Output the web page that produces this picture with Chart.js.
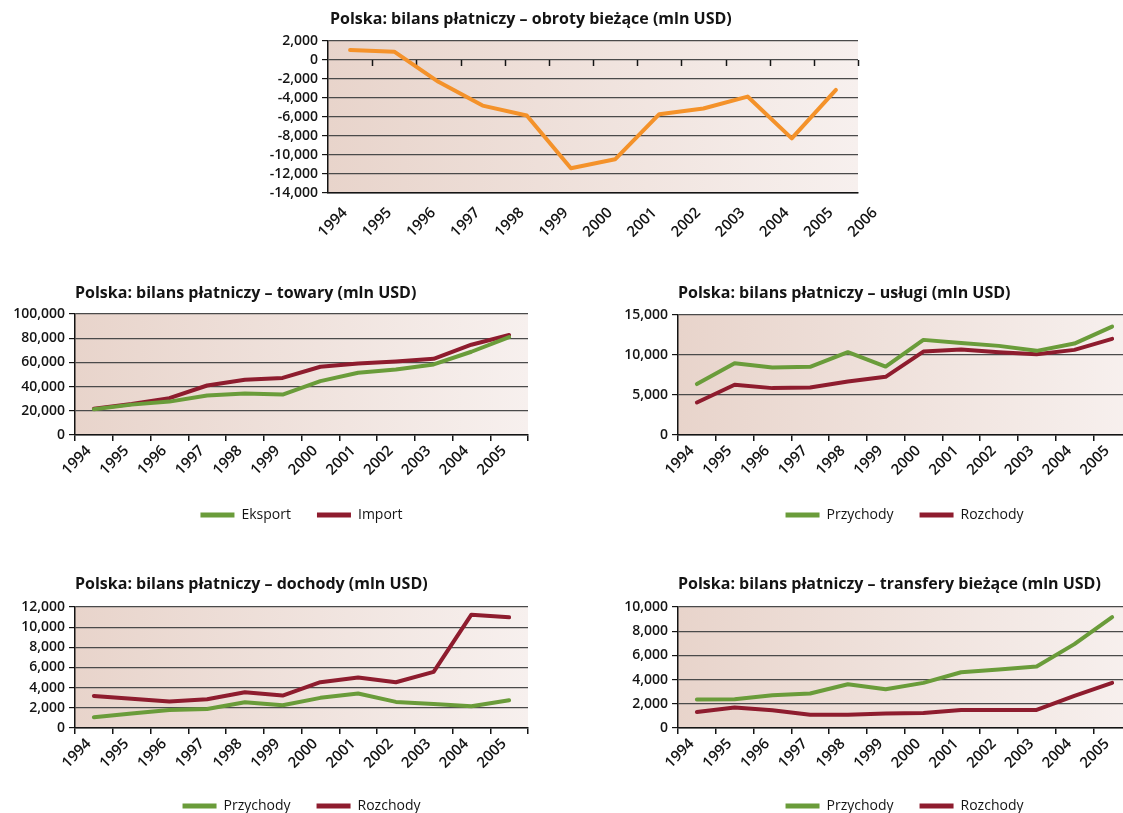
<!DOCTYPE html>
<html lang="pl">
<head>
<meta charset="UTF-8">
<title>Polska: bilans płatniczy</title>
<script src="https://cdn.jsdelivr.net/npm/chart.js@4.4.1/dist/chart.umd.min.js"></script>
<style>
  html, body { margin: 0; padding: 0; background: #fff; overflow: hidden; }
  body { width: 1123px; height: 813px; position: relative; }
  canvas { position: absolute; }
</style>
</head>
<body>
<canvas id="obroty" width="660" height="250" style="left:240px; top:0px"></canvas>
<canvas id="towary" width="560" height="262" style="left:0px; top:270px"></canvas>
<canvas id="uslugi" width="560" height="262" style="left:603px; top:270px"></canvas>
<canvas id="dochody" width="560" height="263" style="left:0px; top:560px"></canvas>
<canvas id="transfery" width="560" height="263" style="left:603px; top:560px"></canvas>

<script>
// years on the category axis; the current-account chart also labels the closing 2006 tick
const years = ['1994', '1995', '1996', '1997', '1998', '1999', '2000', '2001', '2002', '2003', '2004', '2005'];
const topAxisYears = [...years, '2006'];

// mln USD
const currentAccount = [1050, 880, -2300, -4800, -5850, -11400, -10450, -5700, -5100, -3850, -8250, -3150];
const goodsExport = [21300, 25100, 27600, 32600, 34300, 33400, 44500, 51400, 54100, 58300, 68800, 80900];
const goodsImport = [21800, 25700, 30400, 40900, 45600, 47200, 56400, 59100, 60800, 63000, 74600, 82600];
const servicesCredit = [6360, 8980, 8440, 8520, 10350, 8560, 11890, 11510, 11140, 10520, 11430, 13550];
const servicesDebit = [4070, 6280, 5860, 5940, 6690, 7270, 10430, 10680, 10350, 10100, 10640, 12010];
const incomeCredit = [1060, 1430, 1790, 1890, 2550, 2260, 2990, 3420, 2590, 2390, 2160, 2750];
const incomeDebit = [3180, 2890, 2620, 2850, 3550, 3220, 4540, 5010, 4540, 5570, 11240, 10980];
const transfersCredit = [2350, 2380, 2710, 2850, 3620, 3200, 3730, 4610, 4830, 5080, 6930, 9170];
const transfersDebit = [1330, 1690, 1460, 1100, 1100, 1190, 1240, 1490, 1490, 1490, 2650, 3730];

const GREEN = '#6a9c3a';
const RED = '#8e1c2e';
const ORANGE = '#f4922a';
const INK = '#141414';
const FAMILY = "'Open Sans', 'DejaVu Sans', sans-serif";
const xTickFont = { family: FAMILY, size: 15, weight: '600' };
const yTickFont = { family: FAMILY, size: 14, weight: '600' };

// pinkish gradient behind the plot area
const plotBackground = {
    id: 'plotBackground',
    beforeDraw(chart) {
        const { ctx, chartArea: a } = chart;
        const g = ctx.createLinearGradient(a.left, 0, a.right, 0);
        g.addColorStop(0, '#e8d4cb');
        g.addColorStop(1, '#f7f0ee');
        ctx.save();
        ctx.fillStyle = g;
        ctx.fillRect(a.left, a.top, a.right - a.left, a.bottom - a.top);
        ctx.restore();
    }
};

// title sits over the plot, starting at its left edge
const plotTitle = {
    id: 'plotTitle',
    afterDraw(chart, args, opts) {
        const { ctx, chartArea } = chart;
        ctx.save();
        ctx.font = `bold 16px ${FAMILY}`;
        ctx.fillStyle = INK;
        ctx.textBaseline = 'middle';
        ctx.fillText(opts.text, chartArea.left + (opts.dx || 0), opts.y);
        ctx.restore();
    }
};

// keep the legend centred under the plot rather than the whole canvas
const centerLegend = {
    id: 'centerLegend',
    afterLayout(chart) {
        const lg = chart.legend;
        if (!lg || !lg.options.display) return;
        const a = chart.chartArea;
        const shift = (a.left + a.right) / 2 - (lg.left + lg.right) / 2;
        lg.left += shift;
        lg.right += shift;
    }
};

// small category ticks on the zero line (current-account chart)
const zeroLineTicks = {
    id: 'zeroLineTicks',
    beforeDatasetsDraw(chart, args, opts) {
        if (!opts.enabled) return;
        const { ctx, scales: { x, y } } = chart;
        const y0 = y.getPixelForValue(0);
        ctx.save();
        ctx.strokeStyle = INK;
        ctx.lineWidth = 1.5;
        for (let k = 0; k < years.length; k++) {
            const px = Math.round(x.getPixelForValue(k + 0.5)) + 0.5;
            ctx.beginPath();
            ctx.moveTo(px, y0);
            ctx.lineTo(px, y0 + 6);
            ctx.stroke();
        }
        ctx.restore();
    }
};

function lineSet(label, data, color) {
    return {
        label, data,
        borderColor: color, backgroundColor: color,
        borderWidth: 4, pointRadius: 0, tension: 0,
        borderJoinStyle: 'round', borderCapStyle: 'round'
    };
}

function makeChart(id, cfg) {
    const canvas = document.getElementById(id);
    const W = canvas.width, H = canvas.height;
    const box = cfg.box;
    const top = cfg.topChart;

    return new Chart(canvas, {
        type: 'line',
        data: { labels: years, datasets: cfg.datasets },
        options: {
            responsive: false,
            animation: false,
            layout: { padding: { left: 0, top: box.top, right: W - box.right, bottom: 0 } },
            plugins: {
                title: { display: false },
                tooltip: { enabled: false },
                legend: {
                    display: !top,
                    position: 'bottom',
                    labels: {
                        boxWidth: 34, boxHeight: 5, padding: 26,
                        color: INK,
                        font: { family: FAMILY, size: 14 },
                        generateLabels: chart => Chart.defaults.plugins.legend.labels
                            .generateLabels(chart).map(l => ({ ...l, lineWidth: 0 }))
                    }
                },
                plotTitle: { text: cfg.title, y: cfg.titleY, dx: cfg.titleDx || 0 },
                zeroLineTicks: { enabled: !!top }
            },
            scales: {
                x: {
                    type: 'category',
                    offset: true,
                    grid: {
                        display: !top, offset: true, drawOnChartArea: false,
                        tickLength: 6, color: INK, tickColor: INK, lineWidth: 1.5
                    },
                    border: { display: true, color: INK, width: 1.5 },
                    ticks: {
                        autoSkip: false, minRotation: 45, maxRotation: 45,
                        padding: top ? 5 : 1, labelOffset: -5,
                        font: xTickFont, color: INK,
                        callback: v => top ? topAxisYears[v] : years[v]
                    },
                    afterBuildTicks: s => {
                        if (top) s.ticks.push({ value: years.length });
                    },
                    afterFit: s => {
                        const lh = s.chart.legend && s.chart.legend.options.display ? s.chart.legend.height : 0;
                        s.height = H - lh - box.bottom;
                    }
                },
                y: {
                    min: cfg.yMin, max: cfg.yMax,
                    ticks: {
                        stepSize: cfg.step, autoSkip: false, padding: 4,
                        font: yTickFont, color: INK,
                        callback: v => v.toLocaleString('en-US')
                    },
                    grid: { color: '#4a4a4a', lineWidth: 1.2, tickLength: 6, tickColor: INK },
                    border: { display: true, color: INK, width: 1.5 },
                    afterFit: s => { s.width = box.left; }
                }
            }
        },
        plugins: [plotBackground, plotTitle, centerLegend, zeroLineTicks]
    });
}

makeChart('obroty', {
    title: 'Polska: bilans płatniczy – obroty bieżące (mln USD)',
    titleY: 19, titleDx: 2, topChart: true,
    box: { left: 88, top: 41, right: 618, bottom: 193 },
    yMin: -14000, yMax: 2000, step: 2000,
    datasets: [lineSet('Obroty bieżące', currentAccount, ORANGE)]
});

makeChart('towary', {
    title: 'Polska: bilans płatniczy – towary (mln USD)',
    titleY: 23,
    box: { left: 75, top: 44, right: 528, bottom: 165 },
    yMin: 0, yMax: 100000, step: 20000,
    datasets: [lineSet('Eksport', goodsExport, GREEN), lineSet('Import', goodsImport, RED)]
});

makeChart('uslugi', {
    title: 'Polska: bilans płatniczy – usługi (mln USD)',
    titleY: 23,
    box: { left: 75, top: 45, right: 528, bottom: 165 },
    yMin: 0, yMax: 15000, step: 5000,
    datasets: [lineSet('Przychody', servicesCredit, GREEN), lineSet('Rozchody', servicesDebit, RED)]
});

makeChart('dochody', {
    title: 'Polska: bilans płatniczy – dochody (mln USD)',
    titleY: 24,
    box: { left: 75, top: 47, right: 528, bottom: 168 },
    yMin: 0, yMax: 12000, step: 2000,
    datasets: [lineSet('Przychody', incomeCredit, GREEN), lineSet('Rozchody', incomeDebit, RED)]
});

makeChart('transfery', {
    title: 'Polska: bilans płatniczy – transfery bieżące (mln USD)',
    titleY: 24,
    box: { left: 75, top: 47, right: 528, bottom: 168 },
    yMin: 0, yMax: 10000, step: 2000,
    datasets: [lineSet('Przychody', transfersCredit, GREEN), lineSet('Rozchody', transfersDebit, RED)]
});
</script>
</body>
</html>
